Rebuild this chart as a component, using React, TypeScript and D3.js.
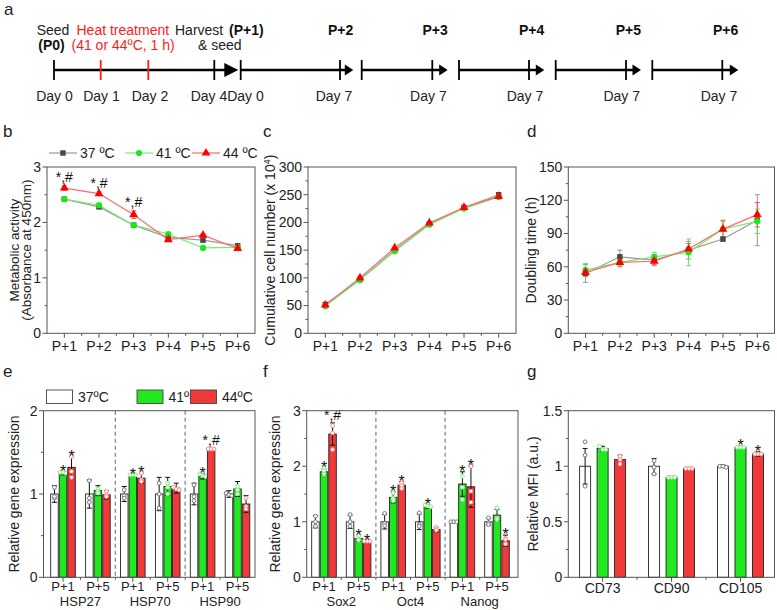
import React from 'react';
import * as d3 from 'd3';

const FONT = '"Liberation Sans", Arial, sans-serif';

// ---------- data ----------
const PASSAGES = ['P+1', 'P+2', 'P+3', 'P+4', 'P+5', 'P+6'];
const TEMP_LABELS = ['37 ºC', '41 ºC', '44 ºC'];
const BAR_TEMP_LABELS = ['37ºC', '41ºC', '44ºC'];

// b: metabolic activity
const META_37 = [2.42, 2.28, 1.95, 1.73, 1.68, 1.58];
const META_41 = [2.42, 2.31, 1.95, 1.79, 1.54, 1.55];
const META_44 = [2.62, 2.52, 2.14, 1.69, 1.77, 1.53];
const META_ERR_37 = [0.02, 0.03, 0.02, 0.03, 0.02, 0.02];
const META_ERR_41 = [0.02, 0.04, 0.02, 0.02, 0.02, 0.02];
const META_ERR_44 = [0.04, 0.03, 0.07, 0.03, 0.02, 0.02];
const META_SIG = ['*,#', '*,#', '*,#', '', '', ''];

// c: cumulative cell number
const CUM_37 = [52, 97, 150, 197, 227, 250];
const CUM_41 = [49, 96, 148, 196, 225, 246];
const CUM_44 = [51, 100, 154, 199, 227, 247];

// d: doubling time
const DT_37 = [54, 69, 66, 75, 85, 102];
const DT_41 = [57, 64, 69, 73, 94, 101];
const DT_44 = [55, 64, 65, 76, 94, 107];
const DT_ERR_37 = [8, 6, 5, 8, 2, 23];
const DT_ERR_41 = [6, 3, 4, 12, 7, 11];
const DT_ERR_44 = [3, 4, 3, 5, 8, 11];

// e: heat shock proteins
const HSP_GENES = ['HSP27', 'HSP70', 'HSP90'];
const SUB_PASSAGES = ['P+1', 'P+5'];
const HSP_37 = [1, 1, 1, 1, 1, 1];
const HSP_41 = [1.25, 1.04, 1.22, 1.09, 1.21, 1.06];
const HSP_44 = [1.32, 0.99, 1.19, 1.07, 1.54, 0.88];
const HSP_ERR_37 = [0.1, 0.17, 0.09, 0.2, 0.13, 0.04];
const HSP_ERR_41 = [0.02, 0.06, 0.01, 0.11, 0.03, 0.09];
const HSP_ERR_44 = [0.13, 0.05, 0.06, 0.06, 0.01, 0.1];
const HSP_DOTS_37 = [[1.08, 0.95, 0.97], [1.16, 0.95, 0.9], [1.05, 0.98, 0.95], [1.13, 1.0, 0.83], [1.11, 0.97, 0.92], [1.01, 0.99, 0.98]];
const HSP_DOTS_41 = [[1.26, 1.26, 1.25], [1.06, 1.03, 1.01], [1.23, 1.23, 1.23], [1.13, 1.08, 1.0], [1.24, 1.22, 1.21], [1.09, 1.05, 1.0]];
const HSP_DOTS_44 = [[1.45, 1.27, 1.2], [1.03, 0.99, 0.97], [1.25, 1.17, 1.15], [1.08, 1.06, 1.05], [1.54, 1.54, 1.54], [0.95, 0.85, 0.82]];
const HSP_SIG_41 = ['*', '', '*', '', '*', ''];
const HSP_SIG_44 = ['*', '', '*', '', '*,#', ''];

// f: stemness genes
const STEM_GENES = ['Sox2', 'Oct4', 'Nanog'];
const STEM_37 = [1, 1, 1, 1, 1, 1];
const STEM_41 = [1.9, 0.7, 1.44, 1.27, 1.68, 1.12];
const STEM_44 = [2.58, 0.65, 1.66, 0.86, 1.63, 0.66];
const STEM_ERR_37 = [0.11, 0.12, 0.13, 0.14, 0.0, 0.06];
const STEM_ERR_41 = [0.05, 0.05, 0.1, 0.03, 0.22, 0.1];
const STEM_ERR_44 = [0.2, 0.01, 0.06, 0.04, 0.37, 0.1];
const STEM_DOTS_37 = [[1.1, 1.0, 0.92], [1.13, 1.0, 0.92], [1.15, 0.97, 0.93], [1.16, 0.95, 0.92], [1.0, 1.0, 1.0], [1.07, 0.98, 0.95]];
const STEM_DOTS_41 = [[1.96, 1.92, 1.86], [0.75, 0.68, 0.67], [1.52, 1.42, 1.38], [1.3, 1.28, 1.27], [1.82, 1.62, 1.4], [1.25, 1.07, 1.04]];
const STEM_DOTS_44 = [[2.73, 2.6, 2.3], [0.65, 0.65, 0.65], [1.7, 1.65, 1.6], [0.9, 0.86, 0.85], [2.0, 1.55, 1.35], [0.7, 0.68, 0.6]];
const STEM_SIG_41 = ['*', '*', '*', '*', '*', ''];
const STEM_SIG_44 = ['*,#', '*', '*', '', '*', '*'];

// g: surface markers
const MARKERS = ['CD73', 'CD90', 'CD105'];
const MFI_37 = [1.0, 1.0, 1.0];
const MFI_41 = [1.16, 0.9, 1.17];
const MFI_44 = [1.06, 0.98, 1.11];
const MFI_ERR_37 = [0.16, 0.07, 0.01];
const MFI_ERR_41 = [0.02, 0.01, 0.01];
const MFI_ERR_44 = [0.04, 0.01, 0.02];
const MFI_DOTS_37 = [[1.22, 1.1, 0.82], [1.05, 0.99, 0.93], [1.0, 1.0, 0.99]];
const MFI_DOTS_41 = [[1.18, 1.15, 1.15], [0.9, 0.9, 0.9], [1.17, 1.17, 1.17]];
const MFI_DOTS_44 = [[1.09, 1.06, 1.02], [0.98, 0.98, 0.98], [1.11, 1.11, 1.11]];
const MFI_SIG_41 = ['', '', '*'];
const MFI_SIG_44 = ['', '', '*'];

// ---------- style ----------
const AXIS = '#555';
const GREEN = '#22e822';
const RED = '#f03a3a';
const LINE_STYLES = [
  { line: '#9a9a9a', marker: '#4a4a4a', err: '#8a8a8a', shape: d3.symbolSquare, size: 30 },
  { line: '#74ee74', marker: '#1fe61f', err: '#4fe84f', shape: d3.symbolCircle, size: 30 },
  { line: '#ff6a6a', marker: '#ff0000', err: '#ff4a4a', shape: d3.symbolTriangle, size: 34 },
];
const BAR_STYLES = [
  { fill: '#ffffff', dot: '#777777' },
  { fill: GREEN, dot: '#7cf07c' },
  { fill: RED, dot: '#ff8a8a' },
];

// ---------- shared pieces ----------
type Frame = { x0: number; x1: number; y0: number; y1: number };

function YAxis({ f, y, ticks, minor, fmt }: { f: Frame; y: any; ticks: number[]; minor: number[]; fmt: (v: number) => string }) {
  return (
    <g>
      {minor.map((v, i) => (
        <line key={'m' + i} x1={f.x0 - 2.5} x2={f.x0} y1={y(v)} y2={y(v)} stroke={AXIS} strokeWidth={1} />
      ))}
      {ticks.map((v, i) => (
        <g key={'t' + i}>
          <line x1={f.x0 - 4.5} x2={f.x0} y1={y(v)} y2={y(v)} stroke={AXIS} strokeWidth={1} />
          <text x={f.x0 - 6} y={y(v) + 4.8} textAnchor="end" fontSize={14} fill="#222">{fmt(v)}</text>
        </g>
      ))}
    </g>
  );
}

function XTicks({ f, major, minor }: { f: Frame; major: number[]; minor: number[] }) {
  return (
    <g>
      {minor.map((v, i) => (
        <line key={'m' + i} x1={v} x2={v} y1={f.y1} y2={f.y1 + 2.5} stroke={AXIS} strokeWidth={1} />
      ))}
      {major.map((v, i) => (
        <line key={'M' + i} x1={v} x2={v} y1={f.y1} y2={f.y1 + 4.5} stroke={AXIS} strokeWidth={1} />
      ))}
    </g>
  );
}

function Box({ f }: { f: Frame }) {
  return <rect x={f.x0} y={f.y0} width={f.x1 - f.x0} height={f.y1 - f.y0} fill="none" stroke={AXIS} strokeWidth={1} />;
}

function midpoints(arr: number[]) {
  const out: number[] = [];
  for (let i = 0; i < arr.length - 1; i++) out.push((arr[i] + arr[i + 1]) / 2);
  return out;
}

// ---------- line panel ----------
type LineSeries = { vals: number[]; errs?: number[] };

function LinePanel({ f, yMax, step, minorStep, series, sig, yLabel, yLabelX, fmt }: {
  f: Frame; yMax: number; step: number; minorStep: number; series: LineSeries[]; sig?: string[];
  yLabel: React.ReactNode; yLabelX: number; fmt: (v: number) => string;
}) {
  const x = d3.scalePoint<string>().domain(PASSAGES).range([f.x0, f.x1]).padding(0.5);
  const y = d3.scaleLinear().domain([0, yMax]).range([f.y1, f.y0]);
  const ticks = d3.range(0, yMax + step / 2, step);
  const minor = d3.range(minorStep, yMax, step);
  const xs = PASSAGES.map((p) => x(p) as number);
  const lineGen = d3.line<number>().x((_, i) => xs[i]).y((v) => y(v));
  return (
    <g>
      <YAxis f={f} y={y} ticks={ticks} minor={minor} fmt={fmt} />
      <XTicks f={f} major={xs} minor={midpoints(xs)} />
      {series.map((s, si) => (
        <g key={'e' + si}>
          {s.errs && s.vals.map((v, i) => {
            const e = s.errs![i];
            if (e <= 0) return null;
            return (
              <g key={i} stroke={LINE_STYLES[si].err} strokeWidth={0.9}>
                <line x1={xs[i]} x2={xs[i]} y1={y(v - e)} y2={y(v + e)} />
                <line x1={xs[i] - 2.5} x2={xs[i] + 2.5} y1={y(v - e)} y2={y(v - e)} />
                <line x1={xs[i] - 2.5} x2={xs[i] + 2.5} y1={y(v + e)} y2={y(v + e)} />
              </g>
            );
          })}
        </g>
      ))}
      {series.map((s, si) => (
        <path key={'l' + si} d={lineGen(s.vals) || ''} fill="none" stroke={LINE_STYLES[si].line} strokeWidth={1.2} />
      ))}
      {series.map((s, si) => (
        <g key={'p' + si}>
          {s.vals.map((v, i) => (
            <path key={i} transform={`translate(${xs[i]},${y(v)})`}
              d={d3.symbol().type(LINE_STYLES[si].shape).size(LINE_STYLES[si].size)() || ''}
              fill={LINE_STYLES[si].marker} />
          ))}
        </g>
      ))}
      {sig && sig.map((t, i) => {
        if (!t) return null;
        const top = Math.max(...series.map((s) => s.vals[i] + (s.errs ? s.errs[i] : 0)));
        return <text key={'s' + i} x={xs[i]} y={y(top) - 4} textAnchor="middle" fontSize={14} fill="#111">{t}</text>;
      })}
      <Box f={f} />
      {PASSAGES.map((p, i) => (
        <text key={'xl' + i} x={xs[i]} y={f.y1 + 18} textAnchor="middle" fontSize={14} fill="#222">{p}</text>
      ))}
      <g transform={`translate(${yLabelX},${(f.y0 + f.y1) / 2}) rotate(-90)`}>{yLabel}</g>
    </g>
  );
}

// ---------- bar panel ----------
type BarSeries = { vals: number[]; errs: number[]; dots: number[][]; sig?: string[] };

function BarPanel({ f, yMax, step, minorStep, categories, groups, sub, pointRange, innerHalf, innerPad, series, yLabel, yLabelX, fmt }: {
  f: Frame; yMax: number; step: number; minorStep: number; categories: string[]; groups?: string[]; sub?: string[];
  pointRange: [number, number]; innerHalf: number; innerPad: number; series: BarSeries[];
  yLabel: React.ReactNode; yLabelX: number; fmt: (v: number) => string;
}) {
  const x = d3.scalePoint<string>().domain(categories).range(pointRange);
  const inner = d3.scaleBand<string>().domain(['0', '1', '2']).range([-innerHalf, innerHalf]).paddingInner(innerPad);
  const bw = inner.bandwidth();
  const y = d3.scaleLinear().domain([0, yMax]).range([f.y1, f.y0]);
  const ticks = d3.range(0, yMax + step / 2, step);
  const minor = d3.range(minorStep, yMax, step);
  const xs = categories.map((c) => x(c) as number);
  const nSub = sub ? sub.length : 1;
  const seps: number[] = [];
  if (groups) {
    for (let g = 1; g < groups.length; g++) seps.push((xs[g * nSub - 1] + xs[g * nSub]) / 2);
  }
  return (
    <g>
      <YAxis f={f} y={y} ticks={ticks} minor={minor} fmt={fmt} />
      <XTicks f={f} major={xs} minor={midpoints(xs)} />
      {seps.map((sx, i) => (
        <line key={'sep' + i} x1={sx} x2={sx} y1={f.y0} y2={f.y1} stroke="#888" strokeWidth={1.3} strokeDasharray="4,3" />
      ))}
      {series.map((s, si) => (
        <g key={'b' + si}>
          {s.vals.map((v, i) => {
            const cx = xs[i] + (inner(String(si)) as number) + bw / 2;
            const e = s.errs[i];
            const dv = s.dots[i];
            const close = Math.max(...dv) - Math.min(...dv) < 0.05;
            return (
              <g key={i}>
                <rect x={cx - bw / 2} y={y(v)} width={bw} height={y(0) - y(v)} fill={BAR_STYLES[si].fill} stroke="#222" strokeWidth={0.9} />
                {e > 0 && (
                  <g stroke="#111" strokeWidth={1}>
                    <line x1={cx} x2={cx} y1={y(v - e)} y2={y(v + e)} />
                    <line x1={cx - 2.5} x2={cx + 2.5} y1={y(v + e)} y2={y(v + e)} />
                    <line x1={cx - 2.5} x2={cx + 2.5} y1={y(v - e)} y2={y(v - e)} />
                  </g>
                )}
                {dv.map((d, k) => (
                  <circle key={k} cx={cx + (close ? (k - 1) * Math.min(3.2, bw / 2.6) : 0)} cy={y(d)} r={1.9}
                    fill="#fff" stroke={BAR_STYLES[si].dot} strokeWidth={1} />
                ))}
              </g>
            );
          })}
        </g>
      ))}
      {series.map((s, si) => (
        <g key={'sig' + si}>
          {s.sig && s.sig.map((t, i) => {
            if (!t) return null;
            const cx = xs[i] + (inner(String(si)) as number) + bw / 2;
            const top = Math.max(s.vals[i] + s.errs[i], ...s.dots[i]);
            const by = t === '*' ? y(top) + 5 : y(top) - 3;
            return <text key={i} x={cx} y={by} textAnchor="middle" fontSize={t === '*' ? 16 : 14} fill="#111">{t}</text>;
          })}
        </g>
      ))}
      <Box f={f} />
      {sub ? (
        <g>
          {categories.map((c, i) => (
            <text key={'xl' + i} x={xs[i]} y={f.y1 + 14} textAnchor="middle" fontSize={13} fill="#222">{sub[i % nSub]}</text>
          ))}
          {groups && groups.map((g, gi) => {
            const cx = (xs[gi * nSub] + xs[gi * nSub + nSub - 1]) / 2;
            return <text key={'gl' + gi} x={cx} y={f.y1 + 29} textAnchor="middle" fontSize={13} fill="#222">{g}</text>;
          })}
        </g>
      ) : (
        categories.map((c, i) => (
          <text key={'xl' + i} x={xs[i]} y={f.y1 + 16} textAnchor="middle" fontSize={14} fill="#222">{c}</text>
        ))
      )}
      <g transform={`translate(${yLabelX},${(f.y0 + f.y1) / 2}) rotate(-90)`}>{yLabel}</g>
    </g>
  );
}

// ---------- timeline (panel a) ----------
const TL_Y = 70;
const TL_FIRST = { start: 54, tip: 238.3, head: 14, half: 7 };
const TL_FIRST_TICKS = [
  { x: 54, red: false, label: 'Day 0', lx: 54.5 },
  { x: 100.7, red: true, label: 'Day 1', lx: 101.5 },
  { x: 148.3, red: true, label: 'Day 2', lx: 150 },
  { x: 214.3, red: false, label: 'Day 4', lx: 209 },
];
const TL_SEGS = [
  { start: 240.7, tick: 340, tip: 353.3, name: 'P+2' },
  { start: 361.7, tick: 432.3, tip: 447.7, name: 'P+3' },
  { start: 459, tick: 529, tip: 544.3, name: 'P+4' },
  { start: 555.7, tick: 626, tip: 641, name: 'P+5' },
  { start: 652.3, tick: 722.3, tip: 738.3, name: 'P+6' },
];

function Timeline() {
  const arrow = (tip: number, len: number, half: number) =>
    `M${tip},${TL_Y} L${tip - len},${TL_Y - half} L${tip - len},${TL_Y + half} Z`;
  return (
    <g>
      <line x1={TL_FIRST.start} x2={TL_FIRST.tip - 4} y1={TL_Y} y2={TL_Y} stroke="#000" strokeWidth={2.6} />
      <path d={arrow(TL_FIRST.tip, TL_FIRST.head, TL_FIRST.half)} fill="#000" />
      {TL_FIRST_TICKS.map((t, i) => (
        <g key={i}>
          <line x1={t.x} x2={t.x} y1={TL_Y - 10} y2={TL_Y + 10} stroke={t.red ? '#ff1a1a' : '#000'} strokeWidth={1.8} />
          <text x={t.lx} y={101} textAnchor="middle" fontSize={14} fill="#222">{t.label}</text>
        </g>
      ))}
      {TL_SEGS.map((s, i) => (
        <g key={'s' + i}>
          <line x1={s.start} x2={s.tip - 3} y1={TL_Y} y2={TL_Y} stroke="#000" strokeWidth={2.6} />
          <path d={arrow(s.tip, 8.5, 5.5)} fill="#000" />
          <line x1={s.start} x2={s.start} y1={TL_Y - 10} y2={TL_Y + 10} stroke="#000" strokeWidth={1.8} />
          <line x1={s.tick} x2={s.tick} y1={TL_Y - 10} y2={TL_Y + 10} stroke="#000" strokeWidth={1.8} />
          <text x={s.tip - 1} y={101} textAnchor="end" fontSize={14} fill="#222">Day 7</text>
          <text x={s.tip} y={35} textAnchor="end" fontSize={14} fontWeight="bold" fill="#111">{s.name}</text>
        </g>
      ))}
      <text x={245.5} y={101} textAnchor="middle" fontSize={14} fill="#222">Day 0</text>
      <text x={53} y={35} textAnchor="middle" fontSize={14} fill="#222">Seed</text>
      <text x={51.5} y={50} textAnchor="middle" fontSize={14} fontWeight="bold" fill="#111">(P0)</text>
      <text x={76.5} y={35} fontSize={14} fill="#ff1a1a">Heat treatment</text>
      <text x={71.5} y={50} fontSize={14} fill="#ff1a1a">(41 or 44ºC, 1 h)</text>
      <text x={175} y={35} fontSize={14} fill="#222">Harvest</text>
      <text x={229} y={35} fontSize={14} fontWeight="bold" fill="#111">(P+1)</text>
      <text x={198} y={50} fontSize={14} fill="#222">&amp; seed</text>
    </g>
  );
}

// ---------- legends ----------
const B_LEGEND_X = [49, 125, 192];
function LineLegend() {
  return (
    <g>
      {TEMP_LABELS.map((t, i) => {
        const lx = B_LEGEND_X[i];
        return (
          <g key={i}>
            <line x1={lx} x2={lx + 28} y1={153} y2={153} stroke={LINE_STYLES[i].line} strokeWidth={1.2} />
            <path transform={`translate(${lx + 14},153)`} d={d3.symbol().type(LINE_STYLES[i].shape).size(LINE_STYLES[i].size)() || ''} fill={LINE_STYLES[i].marker} />
            <text x={lx + 31} y={158} fontSize={14} fill="#222">{t}</text>
          </g>
        );
      })}
    </g>
  );
}

const E_LEGEND_X = [46.5, 137, 190.5];
function BarLegend() {
  return (
    <g>
      {BAR_TEMP_LABELS.map((t, i) => (
        <g key={i}>
          <rect x={E_LEGEND_X[i]} y={390} width={26} height={13.5} fill={BAR_STYLES[i].fill} stroke="#444" strokeWidth={0.9} />
          <text x={E_LEGEND_X[i] + 31.5} y={402} fontSize={14} fill="#222">{t}</text>
        </g>
      ))}
    </g>
  );
}

const fmtInt = (v: number) => d3.format('d')(v);
const fmtG = (v: number) => String(+v.toFixed(2));

export default function App() {
  const fb: Frame = { x0: 47, x1: 255, y0: 167, y1: 333.3 };
  const fc: Frame = { x0: 308, x1: 516, y0: 167, y1: 333.3 };
  const fd: Frame = { x0: 568.3, x1: 774.5, y0: 167, y1: 333.3 };
  const fe: Frame = { x0: 43.5, x1: 255, y0: 410.7, y1: 577.3 };
  const ff: Frame = { x0: 306.7, x1: 518, y0: 410.7, y1: 577.3 };
  const fg: Frame = { x0: 568.3, x1: 774.5, y0: 410.7, y1: 577.3 };

  const eCats = HSP_GENES.flatMap((g) => SUB_PASSAGES.map((s) => `${g} ${s}`));
  const fCats = STEM_GENES.flatMap((g) => SUB_PASSAGES.map((s) => `${g} ${s}`));

  return (
    <svg width={777} height={610} style={{ position: 'absolute', left: 0, top: 0, background: '#fff' }} fontFamily={FONT}>
      <rect x={0} y={0} width={777} height={610} fill="#fff" />
      <Timeline />
      <LineLegend />
      <BarLegend />

      <LinePanel f={fb} yMax={3} step={1} minorStep={0.5} fmt={fmtInt}
        series={[{ vals: META_37, errs: META_ERR_37 }, { vals: META_41, errs: META_ERR_41 }, { vals: META_44, errs: META_ERR_44 }]}
        sig={META_SIG} yLabelX={19}
        yLabel={<g>
          <text x={0} y={0} textAnchor="middle" fontSize={13.5} fill="#222">Metabolic activity</text>
          <text x={0} y={12} textAnchor="middle" fontSize={13.5} fill="#222">(Absorbance at 450nm)</text>
        </g>} />

      <LinePanel f={fc} yMax={300} step={50} minorStep={25} fmt={fmtInt}
        series={[{ vals: CUM_37 }, { vals: CUM_41 }, { vals: CUM_44 }]}
        yLabelX={275}
        yLabel={<text x={0} y={0} textAnchor="middle" fontSize={14} fill="#222">Cumulative cell number (x 10<tspan dy={-5} fontSize={9}>4</tspan><tspan dy={5}>)</tspan></text>} />

      <LinePanel f={fd} yMax={150} step={30} minorStep={15} fmt={fmtInt}
        series={[{ vals: DT_37, errs: DT_ERR_37 }, { vals: DT_41, errs: DT_ERR_41 }, { vals: DT_44, errs: DT_ERR_44 }]}
        yLabelX={536}
        yLabel={<text x={0} y={0} textAnchor="middle" fontSize={14} fill="#222">Doubling time (h)</text>} />

      <BarPanel f={fe} yMax={2} step={1} minorStep={0.5} fmt={fmtInt} categories={eCats} groups={HSP_GENES} sub={SUB_PASSAGES}
        pointRange={[63, 237.5]} innerHalf={12.3} innerPad={0.12}
        series={[
          { vals: HSP_37, errs: HSP_ERR_37, dots: HSP_DOTS_37 },
          { vals: HSP_41, errs: HSP_ERR_41, dots: HSP_DOTS_41, sig: HSP_SIG_41 },
          { vals: HSP_44, errs: HSP_ERR_44, dots: HSP_DOTS_44, sig: HSP_SIG_44 },
        ]}
        yLabelX={19}
        yLabel={<text x={0} y={0} textAnchor="middle" fontSize={14} fill="#222">Relative gene expression</text>} />

      <BarPanel f={ff} yMax={3} step={1} minorStep={0.5} fmt={fmtInt} categories={fCats} groups={STEM_GENES} sub={SUB_PASSAGES}
        pointRange={[324, 497]} innerHalf={12.3} innerPad={0.12}
        series={[
          { vals: STEM_37, errs: STEM_ERR_37, dots: STEM_DOTS_37 },
          { vals: STEM_41, errs: STEM_ERR_41, dots: STEM_DOTS_41, sig: STEM_SIG_41 },
          { vals: STEM_44, errs: STEM_ERR_44, dots: STEM_DOTS_44, sig: STEM_SIG_44 },
        ]}
        yLabelX={280}
        yLabel={<text x={0} y={0} textAnchor="middle" fontSize={14} fill="#222">Relative gene expression</text>} />

      <BarPanel f={fg} yMax={1.5} step={0.5} minorStep={0.25} fmt={fmtG} categories={MARKERS}
        pointRange={[602.6, 740.5]} innerHalf={23} innerPad={0.37}
        series={[
          { vals: MFI_37, errs: MFI_ERR_37, dots: MFI_DOTS_37 },
          { vals: MFI_41, errs: MFI_ERR_41, dots: MFI_DOTS_41, sig: MFI_SIG_41 },
          { vals: MFI_44, errs: MFI_ERR_44, dots: MFI_DOTS_44, sig: MFI_SIG_44 },
        ]}
        yLabelX={538}
        yLabel={<text x={0} y={0} textAnchor="middle" fontSize={14} fill="#222">Relative MFI (a.u.)</text>} />

      {[
        { t: 'a', x: 4, y: 15 }, { t: 'b', x: 3, y: 137 }, { t: 'c', x: 263, y: 137 }, { t: 'd', x: 527, y: 137 },
        { t: 'e', x: 3, y: 377 }, { t: 'f', x: 263, y: 377 }, { t: 'g', x: 527, y: 377 },
      ].map((l) => (
        <text key={l.t} x={l.x} y={l.y} fontSize={17} fill="#222">{l.t}</text>
      ))}
    </svg>
  );
}
